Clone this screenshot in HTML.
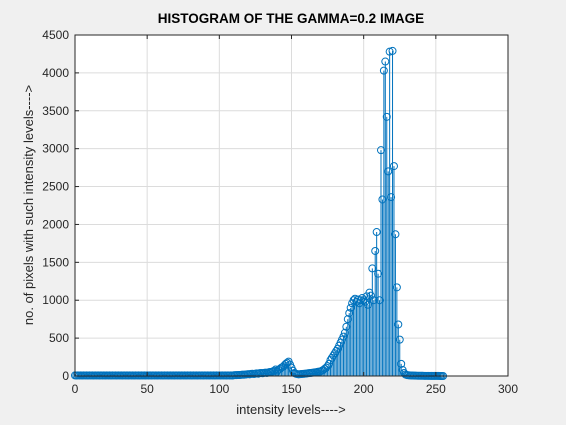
<!DOCTYPE html>
<html><head><meta charset="utf-8"><style>
body{margin:0;background:#f0f0f0;}
svg{display:block;font-family:"Liberation Sans",Arial,sans-serif;}
</style></head><body>
<svg id="chart" width="566" height="425">
<rect x="0" y="0" width="566" height="425" fill="#f0f0f0"/>
<rect x="75" y="35" width="433" height="341" fill="#fff"/>
<g id="grid"></g>
<g id="marks"></g>
<rect x="75" y="35" width="433" height="341" fill="none" stroke="#262626" stroke-width="1"/>
<g id="ticks"></g>
<text x="291" y="23" text-anchor="middle" font-size="13.5" font-weight="bold" fill="#000">HISTOGRAM OF THE GAMMA=0.2 IMAGE</text>
<text x="291" y="414" text-anchor="middle" font-size="13" fill="#262626">intensity levels----&gt;</text>
<text transform="translate(33,205) rotate(-90)" text-anchor="middle" font-size="13" fill="#262626">no. of pixels with such intensity levels----&gt;</text>
</svg>
<script>
const xTicks=[0,50,100,150,200,250,300];
const yTicks=[0,500,1000,1500,2000,2500,3000,3500,4000,4500];
const counts=[
8,6,9,7,8,6,9,7,8,6, 9,7,8,6,9,7,8,6,9,7,
8,6,9,7,8,6,9,7,8,6, 9,7,8,6,9,7,8,6,9,7,
8,6,9,7,8,6,9,7,8,6, 9,7,8,6,9,7,8,6,9,7,
8,6,9,7,8,6,9,7,8,6, 9,7,8,6,9,7,8,6,9,7,
8,6,9,7,8,6,9,7,8,6, 9,7,8,6,9,7,8,6,9,7,
8,6,9,7,8,6,9,7,8,6,
10,12,11,14,13,15,18,16,20,22,
25,22,28,30,26,32,35,30,38,40,
36,42,45,40,48,52,55,60,70,85,
60,80,95,110,120,140,160,175,190,150,
110,70,40,30,25,22,24,26,28,30,
32,35,38,40,42,45,48,50,55,58,
60,70,80,95,110,130,160,210,240,270,
300,330,360,400,440,480,520,570,650,750,
830,900,960,1000,1020,980,1010,960,1000,1030,
1000,980,1050,940,1100,1060,1420,1000,1650,1900,
1350,1000,2980,2330,4030,4150,3420,2700,4280,2360,
4290,2770,1870,1170,680,480,160,80,40,20,
12,10,8,6,6,5,5,4,4,3,
3,3,2,2,2,2,1,1,1,1,1,1,1,0,0,0
];
const X0=75,X1=508,Y0=376,Y1=35;
const sx=v=>X0+(v-0)/(300-0)*(X1-X0);
const sy=v=>Y0-(v-0)/(4500-0)*(Y0-Y1);
const NS="http://www.w3.org/2000/svg";
const grid=document.getElementById('grid'),marks=document.getElementById('marks'),ticks=document.getElementById('ticks');
function mk(t,a){const e=document.createElementNS(NS,t);for(const k in a)e.setAttribute(k,a[k]);return e;}
xTicks.forEach(t=>{
  const g=mk('line',{x1:sx(t),x2:sx(t),y1:Y1,y2:Y0,stroke:'#dcdcdc','stroke-width':1});
  
  
  grid.appendChild(g);
  const tk=mk('line',{x1:sx(t),x2:sx(t),y1:Y0,y2:Y0-4,stroke:'#262626'});
  
  
  ticks.appendChild(tk);
  const tk2=mk('line',{x1:sx(t),x2:sx(t),y1:Y1,y2:Y1+4,stroke:'#262626'});
  
  
  ticks.appendChild(tk2);
  const l=mk('text',{x:sx(t),y:Y0+17,'text-anchor':'middle','font-size':12,fill:'#262626'});
  l.textContent=t;
  
  
  ticks.appendChild(l);
});
yTicks.forEach(t=>{
  const g=mk('line',{x1:X0,x2:X1,y1:sy(t),y2:sy(t),stroke:'#dcdcdc','stroke-width':1});
  
  
  grid.appendChild(g);
  const tk=mk('line',{x1:X0,x2:X0+4,y1:sy(t),y2:sy(t),stroke:'#262626'});
  
  
  ticks.appendChild(tk);
  const l=mk('text',{x:X0-6,y:sy(t)+4,'text-anchor':'end','font-size':12,fill:'#262626'});
  l.textContent=t;
  
  
  ticks.appendChild(l);
});
counts.forEach((c,i)=>{
  const s=mk('line',{x1:sx(i),x2:sx(i),y1:sy(0),y2:sy(c),stroke:'#0072BD','stroke-width':1});
  
  
  marks.appendChild(s);
  const m=mk('circle',{cx:sx(i),cy:sy(c),r:3.5,fill:'none',stroke:'#0072BD','stroke-width':1});
  
  
  marks.appendChild(m);
});
</script>
</body></html>
